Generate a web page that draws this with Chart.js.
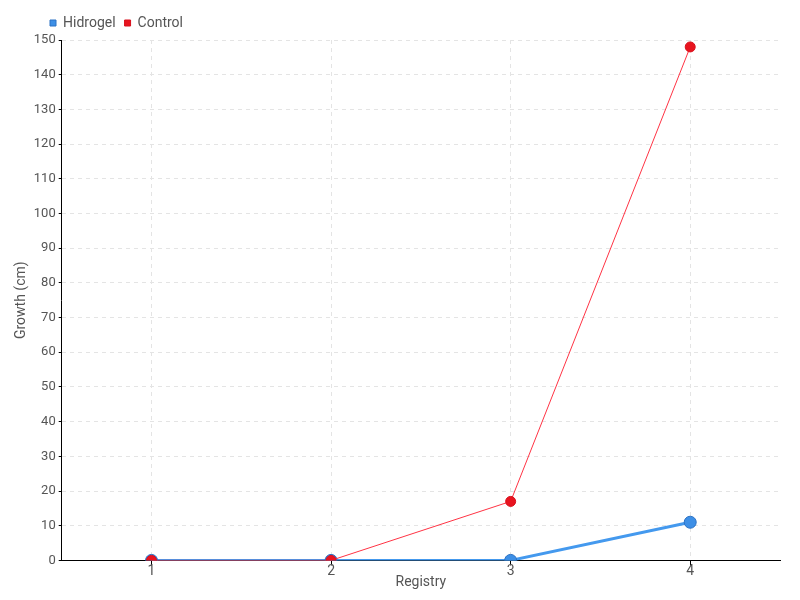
<!DOCTYPE html>
<html>
<head>
<meta charset="utf-8">
<script src="https://cdn.jsdelivr.net/npm/chart.js@4/dist/chart.umd.min.js"></script>
<style>
  html, body { margin: 0; padding: 0; background: #fff; }
  #wrap { width: 800px; height: 600px; }
</style>
</head>
<body>
<div id="wrap"><canvas id="grafico"></canvas></div>
<script>
// valores
const registros = ['1', '2', '3', '4'];
const hidrogel = [0, 0, 0, 11];
const controle = [0, 0, 17, 148];

Chart.defaults.font.family = "Roboto, 'Liberation Sans', sans-serif";
Chart.defaults.font.size = 14;
Chart.defaults.color = '#555';

// empurra a legenda para a direita, alinhada como no original
const moverLegenda = {
    id: 'moverLegenda',
    afterLayout(chart) {
        if (chart.legend) chart.legend.left += 29;
    }
};

const ctx = document.getElementById('grafico').getContext('2d');

new Chart(ctx, {
    type: 'line',
    data: {
        labels: registros,
        datasets: [{
            label: 'Hidrogel',
            data: hidrogel,
            borderColor: '#4499ee',
            backgroundColor: '#3d8fe6',
            borderWidth: 3,
            pointRadius: 6,
            pointBorderWidth: 1,
            pointBorderColor: '#2c72c4',
            pointBackgroundColor: '#3d8fe6',
            tension: 0,
            order: 1
        }, {
            label: 'Control',
            data: controle,
            borderColor: '#ff3344',
            backgroundColor: '#e8141f',
            borderWidth: 1,
            pointRadius: 5,
            pointBorderWidth: 1,
            pointBorderColor: '#d8101c',
            pointBackgroundColor: '#e8141f',
            tension: 0,
            order: 0
        }]
    },
    options: {
        responsive: true,
        maintainAspectRatio: false,
        animation: false,
        layout: { padding: { left: 12, right: 20, top: 7, bottom: 9 } },
        plugins: {
            legend: {
                position: 'top',
                align: 'start',
                labels: {
                    usePointStyle: true,
                    pointStyle: 'rect',
                    boxWidth: 6,
                    boxHeight: 6,
                    padding: 9,
                    font: { size: 14 },
                    sort: (a, b) => a.datasetIndex - b.datasetIndex
                }
            },
            tooltip: { enabled: false }
        },
        scales: {
            x: {
                offset: true,
                grid: {
                    color: '#e4e4e4',
                    tickColor: '#000',
                    tickLength: 5,
                    offset: false
                },
                border: { color: '#000', dash: [4, 4], width: 1 },
                ticks: { padding: -2, font: { size: 14 } },
                title: { display: true, text: 'Registry', padding: { top: -4, bottom: 0 }, font: { size: 14 } }
            },
            y: {
                min: 0,
                max: 150,
                ticks: { stepSize: 10, padding: 3, font: { size: 13 } },
                grid: {
                    color: '#e4e4e4',
                    tickColor: '#000',
                    tickLength: 3
                },
                border: { color: '#000', dash: [4, 4], width: 1 },
                title: { display: true, text: 'Growth (cm)', padding: 1, font: { size: 14 } }
            }
        }
    },
    plugins: [moverLegenda]
});
</script>
</body>
</html>
